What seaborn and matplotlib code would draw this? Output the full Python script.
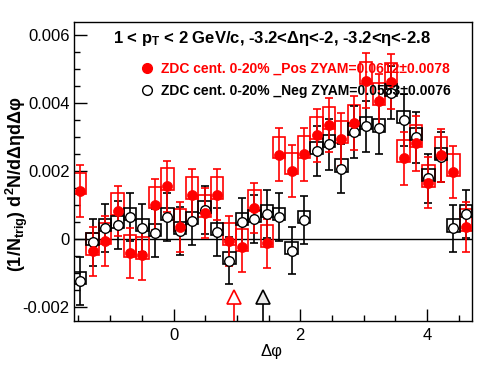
import numpy as np
import pandas as pd
import matplotlib
matplotlib.use("Agg")
import matplotlib.pyplot as plt
from matplotlib.patches import Rectangle
import seaborn as sns

# Binning: 32 bins over [-pi/2, 3pi/2]
n_bins = 32
edges = np.linspace(-np.pi / 2, 3 * np.pi / 2, n_bins + 1)
centers = 0.5 * (edges[:-1] + edges[1:])
half_w = 0.5 * (edges[1] - edges[0])

# ZDC cent. 0-20% _Pos (red, filled)
pos_val = [0.00142, -0.00036, -0.00005, 0.00083, -0.00042, -0.00047, 0.00101, 0.00155,
           0.00036, 0.00130, 0.00077, 0.00130, -0.00006, -0.00024, 0.00092, -0.00013,
           0.00248, 0.00201, 0.00249, 0.00305, 0.00335, 0.00293, 0.00342, 0.00466,
           0.00405, 0.00463, 0.00237, 0.00281, 0.00165, 0.00246, 0.00196, 0.00036]
pos_err = [0.00076, 0.00072, 0.00073, 0.00074, 0.00073, 0.00073, 0.00074, 0.00075,
           0.00074, 0.00075, 0.00074, 0.00075, 0.00073, 0.00073, 0.00074, 0.00073,
           0.00077, 0.00076, 0.00077, 0.00078, 0.00079, 0.00078, 0.00079, 0.00081,
           0.00080, 0.00081, 0.00077, 0.00081, 0.00075, 0.00077, 0.00076, 0.00074]
pos_sys_up = 0.00053
pos_sys_dn = 0.00011

# ZDC cent. 0-20% _Neg (black, open)
neg_val = [-0.00124, -0.00010, 0.00032, 0.00041, 0.00064, 0.00032, 0.00018, 0.00065,
           0.00024, 0.00053, 0.00086, 0.00021, -0.00064, 0.00050, 0.00059, 0.00074,
           0.00064, -0.00035, 0.00055, 0.00258, 0.00279, 0.00207, 0.00314, 0.00331,
           0.00325, 0.00430, 0.00349, 0.00299, 0.00179, 0.00242, 0.00031, 0.00074]
neg_err = [0.00071, 0.00069, 0.00070, 0.00070, 0.00071, 0.00070, 0.00070, 0.00071,
           0.00070, 0.00071, 0.00071, 0.00070, 0.00069, 0.00071, 0.00071, 0.00071,
           0.00071, 0.00069, 0.00071, 0.00074, 0.00075, 0.00073, 0.00076, 0.00076,
           0.00076, 0.00078, 0.00076, 0.00075, 0.00072, 0.00074, 0.00070, 0.00071]
neg_sys_up = 0.00027
neg_sys_dn = 0.00009

# arrow markers (red = Pos, black = Neg)
arrow_x = [0.95, 1.41]
arrow_y = -0.0017

title = "1 < p$_{\\mathbf{T}}$ < 2 GeV/c, -3.2<\u0394\u03b7<-2, -3.2<\u03b7<-2.8"
leg_pos = "ZDC cent. 0-20% _Pos ZYAM=0.0612\u00b10.0078"
leg_neg = "ZDC cent. 0-20% _Neg ZYAM=0.0553\u00b10.0076"
yticks = [-0.002, 0, 0.002, 0.004, 0.006]
ytick_labels = ["-0.002", "0", "0.002", "0.004", "0.006"]
xticks = [0, 2, 4]
xtick_labels = ["0", "2", "4"]

df = pd.DataFrame({
    "dphi": np.concatenate([centers, centers]),
    "val": pos_val + neg_val,
    "err": pos_err + neg_err,
    "set": ["Pos"] * n_bins + ["Neg"] * n_bins,
})

sns.set_theme(style="ticks")
plt.rcParams["font.family"] = ["Liberation Sans", "DejaVu Sans"]
plt.rcParams["text.color"] = "black"
plt.rcParams["mathtext.fontset"] = "custom"
plt.rcParams["mathtext.rm"] = "Liberation Sans"
plt.rcParams["mathtext.bf"] = "Liberation Sans:bold"
plt.rcParams["mathtext.it"] = "Liberation Sans:italic"

fig = plt.figure(figsize=(4.96, 3.74), dpi=100)
ax = fig.add_axes([74 / 496, 53 / 374, 398 / 496, 299 / 374])

ax.axhline(0, color="black", lw=1.0, zorder=1)

# systematic boxes
for x, v in zip(centers, pos_val):
    ax.add_patch(Rectangle((x - half_w, v - pos_sys_dn), 2 * half_w, pos_sys_up + pos_sys_dn,
                           fill=False, edgecolor="red", lw=1.2, zorder=2))
for x, v in zip(centers, neg_val):
    ax.add_patch(Rectangle((x - half_w, v - neg_sys_dn), 2 * half_w, neg_sys_up + neg_sys_dn,
                           fill=False, edgecolor="black", lw=1.2, zorder=2))

# statistical errors
pos = df[df["set"] == "Pos"]
neg = df[df["set"] == "Neg"]
ax.errorbar(neg["dphi"], neg["val"], yerr=neg["err"], fmt="none", ecolor="black",
            elinewidth=1.2, capsize=3, capthick=1.2, zorder=3)
ax.errorbar(pos["dphi"], pos["val"], yerr=pos["err"], fmt="none", ecolor="red",
            elinewidth=1.2, capsize=3, capthick=1.2, zorder=3)

sns.scatterplot(data=neg, x="dphi", y="val", ax=ax, marker="o", s=48,
                facecolor="white", edgecolor="black", linewidth=1.0, zorder=4, legend=False)
sns.scatterplot(data=pos, x="dphi", y="val", ax=ax, marker="o", s=52,
                color="red", edgecolor="red", linewidth=0.5, zorder=5, legend=False)

# arrows
ymin, ymax = -0.00241, 0.00638
for x, c, fc in zip(arrow_x, ["red", "black"], ["white", "#ececec"]):
    ax.plot([x, x], [ymin, arrow_y], color=c, lw=1.2, zorder=4)
    ax.plot([x], [arrow_y], marker="^", ms=10, mfc=fc, mec=c, mew=1.2, zorder=5)

ax.set_xlim(-np.pi / 2, 3 * np.pi / 2)
ax.set_ylim(ymin, ymax)
ax.set_xticks(xticks)
ax.set_xticklabels(xtick_labels)
ax.set_yticks(yticks)
ax.set_yticklabels(ytick_labels)
ax.set_xticks(np.arange(-1.5, 4.75, 0.5), minor=True)
ax.set_yticks(np.arange(-0.002, 0.0064, 0.0005), minor=True)
ax.tick_params(which="both", direction="in", top=False, right=False, colors="black",
               labelsize=12, width=1.0)
ax.tick_params(axis="y", which="major", length=9, pad=3)
ax.tick_params(axis="x", which="major", length=9, pad=5)
ax.tick_params(which="minor", length=4.5)
for s in ax.spines.values():
    s.set_color("black")
    s.set_linewidth(1.0)
ax.set_xlabel("")
ax.set_ylabel("")

fig.text(113 / 496, 1 - 43.3 / 374, title, fontsize=12, fontweight="bold", ha="left", va="baseline")
fig.text(160.7 / 496, 1 - 72.3 / 374, leg_pos, fontsize=10, fontweight="bold", color="red",
         ha="left", va="baseline")
fig.text(160.7 / 496, 1 - 94.5 / 374, leg_neg, fontsize=10, fontweight="bold", color="black",
         ha="left", va="baseline")
fig.lines.append(plt.Line2D([147.3 / 496], [1 - 67.7 / 374], transform=fig.transFigure,
                            marker="o", ms=7, mfc="red", mec="red", ls="none"))
fig.lines.append(plt.Line2D([147.3 / 496], [1 - 90 / 374], transform=fig.transFigure,
                            marker="o", ms=7, mfc="white", mec="black", mew=1.0, ls="none"))

fig.text(17 / 496, 1 - 184 / 374, "(1/N$_{\\mathbf{trig}}$) d$^{\\mathbf{2}}$N/d\u0394\u03b7d\u0394\u03c6",
         rotation=90, fontsize=13, fontweight="bold", ha="center", va="center")
fig.text(271.7 / 496, 1 - 351.7 / 374, "\u0394\u03c6", fontsize=12, ha="center", va="center")

fig.savefig("out.png", dpi=100)
